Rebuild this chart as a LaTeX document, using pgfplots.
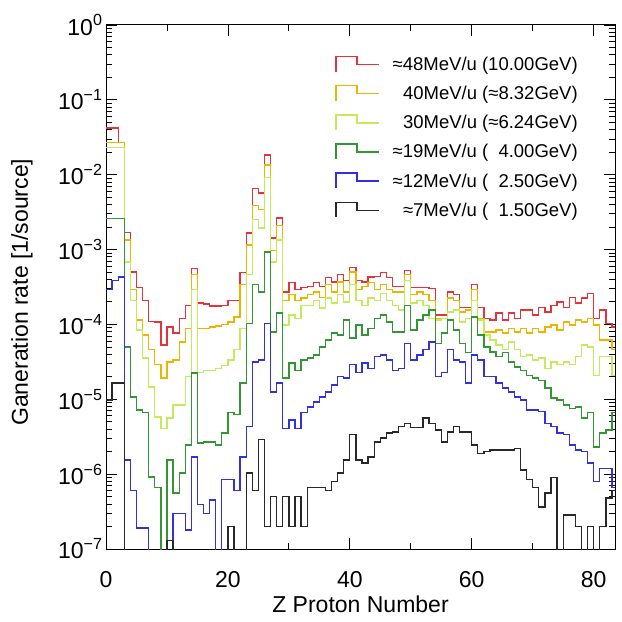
\documentclass[border=0pt]{standalone}
\usepackage{fontspec}
\setmainfont{Liberation Sans}
\usepackage{pgfplots}
\usepackage{pgfplotstable}
\pgfplotsset{compat=1.18}
\usetikzlibrary{calc}

\definecolor{cred}{RGB}{228,52,58}
\definecolor{cgold}{RGB}{238,180,0}
\definecolor{cyg}{RGB}{195,235,90}
\definecolor{cgreen}{RGB}{50,150,50}
\definecolor{cblue}{RGB}{50,50,220}
\definecolor{cblack}{RGB}{40,40,40}

\pgfplotstableread{
Z red orange yg green blue black
0 4.2e-2 2.7e-2 2.3e-2 2.6e-3 2.9e-4 9.8e-6
1 4.2e-2 2.7e-2 2.3e-2 2.6e-3 3.9e-4 1.65e-5
2 2.7e-2 2.7e-2 2.3e-2 2.6e-3 4.3e-4 1.65e-5
3 1.7e-3 1.34e-3 6.8e-4 5.0e-5 1.55e-6 1e-9
4 5.0e-4 2.9e-4 2.1e-4 1.07e-5 6.1e-7 1e-9
5 3.1e-4 1.15e-4 8.4e-5 7.2e-6 1.9e-7 1e-9
6 2.1e-4 7.2e-5 3.55e-5 6.6e-6 1.9e-7 1e-9
7 1.1e-4 4.6e-5 1.46e-5 9.2e-7 1e-9 1e-9
8 1.08e-4 2.9e-5 5.8e-6 6.7e-7 1e-9 1e-9
9 5.3e-5 1.93e-5 4.1e-6 1e-9 1e-9 1e-9
10 9.2e-5 3.15e-5 5.6e-6 1.55e-6 1e-9 1.3e-7
11 7.7e-5 3.35e-5 8.4e-6 5.6e-7 3.0e-7 1e-9
12 1.2e-4 5.8e-5 8.4e-6 1.04e-6 3.0e-7 1e-9
13 1.8e-4 8.9e-5 2.0e-5 2.45e-6 1.8e-7 1e-9
14 5.6e-4 4.6e-4 2.9e-4 2.25e-5 1.7e-6 1e-9
15 1.93e-4 8.9e-5 2.3e-5 2.6e-6 3.9e-7 1e-9
16 1.87e-4 8.9e-5 2.4e-5 2.7e-6 3.0e-7 1e-9
17 1.76e-4 9.2e-5 2.45e-5 2.7e-6 4.5e-7 1e-9
18 1.76e-4 9.5e-5 2.6e-5 2.45e-6 1e-9 1e-9
19 1.8e-4 1.0e-4 2.8e-5 3.55e-6 8.4e-7 1e-9
20 2.1e-4 1.08e-4 3.35e-5 6.6e-6 8.4e-7 2.0e-7
21 2.1e-4 1.26e-4 4.6e-5 6.2e-6 6.1e-7 1e-9
22 4.9e-4 3.4e-4 8.9e-5 1.65e-5 1.7e-6 1e-9
23 1.67e-3 1.15e-3 4.6e-4 1.04e-4 4.3e-6 1.04e-6
24 6.6e-3 3.9e-3 2.5e-3 3.4e-4 3.15e-5 6.1e-7
25 5.7e-3 3.4e-3 1.94e-3 2.7e-4 3.35e-5 2.9e-6
26 1.83e-2 1.35e-2 9.1e-3 9.3e-4 1.04e-4 2.0e-7
27 1.43e-3 9.8e-4 6.8e-4 7.9e-5 1.25e-5 5.0e-7
28 2.64e-3 2.1e-3 1.34e-3 1.42e-4 1.65e-5 2.0e-7
29 2.7e-4 2.1e-4 9.8e-5 1.93e-5 4.1e-6 5.0e-7
30 3.6e-4 2.5e-4 1.34e-4 3.05e-5 5.3e-6 2.0e-7
31 2.9e-4 2.1e-4 1.2e-4 2.45e-5 4.1e-6 5.0e-7
32 3.1e-4 2.25e-4 1.8e-4 3.35e-5 6.6e-6 2.0e-7
33 3.2e-4 2.5e-4 1.8e-4 3.55e-5 7.9e-6 6.7e-7
34 3.6e-4 2.7e-4 2.1e-4 3.9e-5 9.2e-6 6.7e-7
35 3.2e-4 2.3e-4 1.66e-4 5.0e-5 1.07e-5 6.7e-7
36 4.2e-4 3.4e-4 2.25e-4 6.2e-5 1.25e-5 6.1e-7
37 3.7e-4 2.7e-4 1.93e-4 7.7e-5 1.55e-5 7.9e-7
38 4.6e-4 3.7e-4 2.5e-4 7.2e-5 2.0e-5 1.04e-6
39 3.9e-4 2.7e-4 1.99e-4 1.15e-4 1.93e-5 1.55e-6
40 5.8e-4 5.0e-4 3.4e-4 6.6e-5 2.9e-5 3.35e-6
41 3.9e-4 2.9e-4 2.1e-4 9.8e-5 2.3e-5 1.55e-6
42 3.7e-4 3.2e-4 1.8e-4 7.2e-5 3.05e-5 1.41e-6
43 4.3e-4 3.6e-4 2.25e-4 8.9e-5 2.6e-5 1.7e-6
44 4.4e-4 2.9e-4 2.1e-4 1.2e-4 3.7e-5 2.7e-6
45 4.9e-4 3.4e-4 2.6e-4 1.34e-4 3.9e-5 3.05e-6
46 4.2e-4 2.9e-4 2.1e-4 1.08e-4 3.35e-5 3.55e-6
47 3.2e-4 2.7e-4 1.8e-4 7.9e-5 2.45e-5 3.65e-6
48 3.2e-4 2.7e-4 1.56e-4 7.9e-5 2.6e-5 4.3e-6
49 5.3e-4 4.6e-4 3.9e-4 1.8e-4 5.6e-5 4.8e-6
50 3.1e-4 2.5e-4 1.93e-4 8.4e-5 3.35e-5 4.2e-6
51 3.1e-4 2.7e-4 2.1e-4 1.15e-4 3.9e-5 4.2e-6
52 3.1e-4 2.5e-4 1.8e-4 1.34e-4 4.6e-5 5.6e-6
53 3.0e-4 2.1e-4 1.2e-4 1.56e-4 5.8e-5 4.8e-6
54 1.34e-4 1.2e-4 1.15e-4 5.6e-5 2.0e-5 3.9e-6
55 1.34e-4 1.2e-4 1.2e-4 7.7e-5 2.3e-5 2.7e-6
56 2.7e-4 2.25e-4 1.46e-4 1.15e-4 4.6e-5 3.65e-6
57 2.5e-4 2.1e-4 1.56e-4 8.4e-5 3.35e-5 4.3e-6
58 1.7e-4 1.46e-4 1.08e-4 5.6e-5 3.15e-5 3.65e-6
59 1.7e-4 1.56e-4 1.2e-4 4.2e-5 1.65e-5 3.65e-6
60 3.4e-4 2.9e-4 2.1e-4 1.26e-4 3.9e-5 2.45e-6
61 1.7e-4 1.2e-4 1.15e-4 7.2e-5 3.35e-5 1.9e-6
62 1.2e-4 7.9e-5 7.2e-5 5.0e-5 2.0e-5 2.0e-6
63 1.15e-4 7.9e-5 6.2e-5 4.3e-5 2.0e-5 2.1e-6
64 1.42e-4 8.4e-5 5.3e-5 3.7e-5 1.65e-5 2.1e-6
65 1.15e-4 7.7e-5 4.6e-5 4.2e-5 1.42e-5 2.1e-6
66 1.42e-4 8.9e-5 5.8e-5 3.15e-5 1.25e-5 2.1e-6
67 1.2e-4 7.9e-5 4.6e-5 2.7e-5 1.07e-5 2.2e-6
68 1.56e-4 8.9e-5 3.7e-5 2.45e-5 9.8e-6 1.14e-6
69 1.56e-4 7.7e-5 3.9e-5 2.1e-5 7.2e-6 8.4e-7
70 1.34e-4 8.9e-5 3.35e-5 1.93e-5 7.2e-6 6.7e-7
71 1.7e-4 7.9e-5 3.55e-5 1.8e-5 6.8e-6 3.65e-7
72 1.46e-4 9.2e-5 2.6e-5 1.42e-5 4.8e-6 5.6e-7
73 1.8e-4 9.8e-5 3.15e-5 1.04e-5 4.3e-6 9.0e-7
74 1.99e-4 8.4e-5 2.9e-5 9.8e-6 3.55e-6 1e-9
75 1.7e-4 1.08e-4 3.15e-5 8.4e-6 3.35e-6 2.85e-7
76 2.3e-4 9.8e-5 2.9e-5 7.6e-6 2.45e-6 2.85e-7
77 1.93e-4 1.15e-4 3.7e-5 7.9e-6 2.1e-6 2.0e-7
78 2.25e-4 1.08e-4 5.3e-5 5.6e-6 2.0e-6 1e-9
79 2.6e-4 1.2e-4 5.0e-5 6.6e-6 1.41e-6 2.0e-7
80 1.2e-4 9.8e-5 2.1e-5 2.3e-6 7.9e-7 1e-9
81 1.56e-4 6.2e-5 3.7e-5 3.55e-6 1.2e-6 2.0e-7
82 1.04e-4 6.2e-5 3.7e-5 3.9e-6 1.2e-6 4.8e-7
83 9.2e-5 4.6e-5 2.1e-5 6.6e-6 6.7e-7 6.1e-7
84 9.2e-5 4.6e-5 2.1e-5 6.6e-6 6.7e-7 6.1e-7
}\datatable

\begin{document}
\begin{tikzpicture}
\begin{axis}[name=ax, at={(0,0)}, anchor=south west,
  scale only axis, width=509pt, height=524pt,
  ymode=log, ymin=1e-7, ymax=1, xmin=0, xmax=83.5,
  xtick={0,20,40,60,80}, minor xtick={10,30,50,70},
  xticklabels={0,20,40,60,80},
  ytick={1e-7,1e-6,1e-5,1e-4,1e-3,1e-2,1e-1,1},
  yticklabels={10\textsuperscript{−7},10\textsuperscript{−6},10\textsuperscript{−5},10\textsuperscript{−4},10\textsuperscript{−3},10\textsuperscript{−2},10\textsuperscript{−1},10\textsuperscript{0}},
  minor ytick={2e-7,3e-7,4e-7,5e-7,6e-7,7e-7,8e-7,9e-7,
    2e-6,3e-6,4e-6,5e-6,6e-6,7e-6,8e-6,9e-6,
    2e-5,3e-5,4e-5,5e-5,6e-5,7e-5,8e-5,9e-5,
    2e-4,3e-4,4e-4,5e-4,6e-4,7e-4,8e-4,9e-4,
    2e-3,3e-3,4e-3,5e-3,6e-3,7e-3,8e-3,9e-3,
    2e-2,3e-2,4e-2,5e-2,6e-2,7e-2,8e-2,9e-2,
    2e-1,3e-1,4e-1,5e-1,6e-1,7e-1,8e-1,9e-1},
  tick align=inside, xtick pos=both, ytick pos=both,
  major tick length=11pt, minor tick length=6pt,
  every tick/.style={black, line width=0.8pt},
  axis line style={line width=1pt},
  tick label style={font=\fontsize{23}{26}\selectfont},
  xticklabel style={yshift=-19pt},
  label style={font=\fontsize{23}{26}\selectfont},
  xlabel={Z Proton Number},
  ylabel={Ganeration rate [1/source]},
  xlabel style={at={(axis description cs:0.5,-0.105)}, anchor=center},
  ylabel style={at={(axis description cs:-0.165,0.49)}, anchor=center},
  legend style={at={(axis description cs:0.935,0.945)}, anchor=north east,
    draw=none, fill=none, font=\fontsize{18.5}{20}\selectfont,
    row sep=12pt, column sep=12pt, nodes={inner sep=1pt}},
  legend cell align=right,
  legend image code/.code={\draw[#1] (0pt,-7pt) -- (0pt,8pt) -- (21pt,8pt) -- (21pt,0pt) -- (43pt,0pt);},
  every axis plot/.append style={const plot, line width=1.3pt, mark=none}
]
\addplot[color=cred] table[x=Z,y=red] {\datatable};
\addlegendentry{≈48MeV/u (10.00GeV)}
\addplot[color=cgold] table[x=Z,y=orange] {\datatable};
\addlegendentry{40MeV/u (≈8.32GeV)}
\addplot[color=cyg] table[x=Z,y=yg] {\datatable};
\addlegendentry{30MeV/u (≈6.24GeV)}
\addplot[color=cgreen] table[x=Z,y=green] {\datatable};
\addlegendentry{≈19MeV/u (\hphantom{1}4.00GeV)}
\addplot[color=cblue] table[x=Z,y=blue] {\datatable};
\addlegendentry{≈12MeV/u (\hphantom{1}2.50GeV)}
\addplot[color=cblack] table[x=Z,y=black] {\datatable};
\addlegendentry{≈7MeV/u (\hphantom{1}1.50GeV)}
\end{axis}
\pgfresetboundingbox
\path[use as bounding box] ($(ax.south west)+(-106pt,-73pt)$) rectangle ($(ax.north east)+(7pt,25pt)$);
\end{tikzpicture}
\end{document}
